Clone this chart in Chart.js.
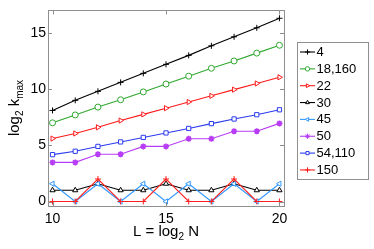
<!DOCTYPE html>
<html>
<head>
<meta charset="utf-8">
<script src="https://cdn.jsdelivr.net/npm/chart.js@4.4.1/dist/chart.umd.min.js"></script>
<style>
  html, body { margin: 0; padding: 0; background: #fff; }
  #wrap { width: 374px; height: 249px; }
</style>
</head>
<body>
<div id="wrap"><canvas id="kmaxChart" width="374" height="249"></canvas></div>
<script>
// L = log2 N
const L = [10, 11, 12, 13, 14, 15, 16, 17, 18, 19, 20];

// log2 kmax, one array per legend entry
const k4     = [8.1, 9.0, 9.8, 10.6, 11.4, 12.2, 13.0, 13.85, 14.65, 15.45, 16.3];
const k18    = [7.0, 7.7, 8.4, 9.05, 9.75, 10.45, 11.15, 11.85, 12.5, 13.2, 13.9];
const k22    = [5.6, 6.05, 6.6, 7.2, 7.75, 8.3, 8.85, 9.4, 9.95, 10.5, 11.05];
const k30    = [1, 1, 1.58, 1, 1, 1.58, 1, 1, 1.58, 1, 1];
const k45    = [1.58, 0, 1.58, 0, 1.58, 0, 1.58, 0, 1.58, 0, 1.58];
const k50    = [3.48, 3.48, 4.2, 4.2, 4.9, 4.9, 5.58, 5.58, 6.25, 6.25, 6.95];
const k54    = [4.17, 4.47, 4.9, 5.3, 5.7, 6.1, 6.5, 6.93, 7.34, 7.72, 8.16];
const k150   = [0, 0, 2, 0, 0, 2, 0, 0, 2, 0, 0];

const labels = ['4', '18,160', '22', '30', '45', '50', '54,110', '150'];
const xTicks = [10, 15, 20];
const yTicks = [0, 5, 10, 15];

const FONT = '"Liberation Sans", Arial, Helvetica, sans-serif';
const FRAME = '#8f8f8f';

const styles = [
  { color: '#000000', pointStyle: 'cross',    rotation: 0,   fill: false },
  { color: '#2fa82f', pointStyle: 'circle',   rotation: 0,   fill: false },
  { color: '#ff1a1a', pointStyle: 'triangle', rotation: 90,  fill: false },
  { color: '#000000', pointStyle: 'triangle', rotation: 0,   fill: false },
  { color: '#3399ff', pointStyle: 'triangle', rotation: -90, fill: false },
  { color: '#b83cf5', pointStyle: 'star',     rotation: 0,   fill: true  },
  { color: '#2b3cf0', pointStyle: 'rect',     rotation: 0,   fill: false },
  { color: '#ff2020', pointStyle: 'cross',    rotation: 0,   fill: false }
];
const series = [k4, k18, k22, k30, k45, k50, k54, k150];

const radiusFor = s => (s.pointStyle === 'cross' || s.pointStyle === 'star') ? 3 : 3;

const datasets = series.map((vals, i) => ({
  label: labels[i],
  data: vals.map((v, j) => ({ x: L[j], y: v })),
  borderColor: styles[i].color,
  backgroundColor: styles[i].fill ? styles[i].color : '#ffffff',
  pointStyle: styles[i].pointStyle,
  pointRotation: styles[i].rotation,
  pointRadius: radiusFor(styles[i]),
  pointBorderColor: styles[i].color,
  pointBackgroundColor: styles[i].fill ? styles[i].color : '#ffffff',
  pointBorderWidth: styles[i].pointStyle === 'star' ? 1.6 : 1,
  borderWidth: 1.1,
  tension: 0,
  order: series.length - i   // later series drawn on top
}));

// box, inward ticks, axis titles and legend
const matlabLook = {
  id: 'matlabLook',
  afterDraw(chart) {
    const { ctx, chartArea: a, scales } = chart;
    ctx.save();
    ctx.strokeStyle = FRAME;
    ctx.lineWidth = 1;
    ctx.strokeRect(Math.round(a.left) + 0.5, Math.round(a.top) + 0.5,
                   Math.round(a.right - a.left), Math.round(a.bottom - a.top));
    ctx.beginPath();
    const tl = 4;
    xTicks.forEach(v => {
      const px = Math.round(scales.x.getPixelForValue(v)) + 0.5;
      ctx.moveTo(px, a.bottom); ctx.lineTo(px, a.bottom - tl);
      ctx.moveTo(px, a.top); ctx.lineTo(px, a.top + tl);
    });
    yTicks.forEach(v => {
      const py = Math.round(scales.y.getPixelForValue(v)) + 0.5;
      ctx.moveTo(a.left, py); ctx.lineTo(a.left + tl, py);
      ctx.moveTo(a.right, py); ctx.lineTo(a.right - tl, py);
    });
    ctx.stroke();

    // x title: L = log2 N
    ctx.fillStyle = '#000';
    ctx.textBaseline = 'alphabetic';
    const big = '15px ' + FONT, small = '10px ' + FONT;
    const xParts = [['L = log', big, 0], ['2', small, 4], [' N', big, 0]];
    let w = 0;
    xParts.forEach(p => { ctx.font = p[1]; w += ctx.measureText(p[0]).width; });
    let x0 = 166 - w / 2;
    xParts.forEach(p => {
      ctx.font = p[1];
      ctx.fillText(p[0], x0, 236 + p[2]);
      x0 += ctx.measureText(p[0]).width;
    });

    // y title: log2 kmax (rotated)
    ctx.translate(19, 108);
    ctx.rotate(-Math.PI / 2);
    const yParts = [['log', big, 0], ['2', small, 4], [' k', big, 0], ['max', small, 4]];
    w = 0;
    yParts.forEach(p => { ctx.font = p[1]; w += ctx.measureText(p[0]).width; });
    x0 = -w / 2;
    yParts.forEach(p => {
      ctx.font = p[1];
      ctx.fillText(p[0], x0, p[2]);
      x0 += ctx.measureText(p[0]).width;
    });
    ctx.restore();

    // legend
    ctx.save();
    const lx = 297, ly = 42, lw = 71, lh = 137;
    ctx.fillStyle = '#fff';
    ctx.fillRect(lx, ly, lw, lh);
    ctx.strokeStyle = FRAME;
    ctx.strokeRect(lx + 0.5, ly + 0.5, lw, lh);
    ctx.font = '13px ' + FONT;
    ctx.textBaseline = 'middle';
    chart.data.datasets.forEach((ds, i) => {
      const cy = 52 + i * 16.85;
      ctx.strokeStyle = ds.borderColor;
      ctx.lineWidth = 1.1;
      ctx.beginPath();
      ctx.moveTo(300, cy); ctx.lineTo(315, cy);
      ctx.stroke();
      ctx.fillStyle = ds.pointBackgroundColor;
      ctx.lineWidth = 1;
      Chart.helpers.drawPoint(ctx, {
        pointStyle: ds.pointStyle,
        rotation: ds.pointRotation,
        radius: ds.pointStyle === 'cross' || ds.pointStyle === 'star' ? 2.6 : 2.2,
        borderWidth: 1
      }, 307.5, cy);
      ctx.fillStyle = '#000';
      ctx.fillText(ds.label, 316.5, cy + 0.5);
    });
    ctx.restore();
  }
};

new Chart(document.getElementById('kmaxChart').getContext('2d'), {
  type: 'line',
  data: { datasets },
  options: {
    responsive: false,
    animation: false,
    layout: { padding: { left: 0, right: 90, top: 8, bottom: 0 } },
    plugins: { legend: { display: false }, tooltip: { enabled: false } },
    scales: {
      x: {
        type: 'linear',
        min: 9.8,
        max: 20.2,
        afterBuildTicks: s => { s.ticks = xTicks.map(v => ({ value: v })); },
        afterFit: s => { s.height = 43; },
        grid: { display: false, drawTicks: false },
        border: { display: false },
        ticks: { color: '#000', font: { family: FONT, size: 14 }, padding: 5, maxRotation: 0 }
      },
      y: {
        type: 'linear',
        min: -0.4,
        max: 17,
        afterBuildTicks: s => { s.ticks = yTicks.map(v => ({ value: v })); },
        afterFit: s => { s.width = 48; },
        grid: { display: false, drawTicks: false },
        border: { display: false },
        ticks: { color: '#000', font: { family: FONT, size: 14 }, padding: 2 }
      }
    }
  },
  plugins: [matlabLook]
});
</script>
</body>
</html>
